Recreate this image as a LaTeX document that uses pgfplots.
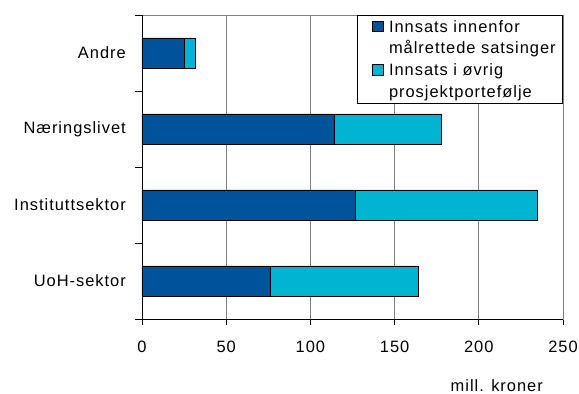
\documentclass[border=0pt]{standalone}
\usepackage{pgfplots}
\pgfplotsset{compat=1.18}
\usepackage{fontspec}
\setmainfont{Liberation Sans}[LetterSpace=6]
\definecolor{dblue}{RGB}{0,83,155}
\definecolor{lblue}{RGB}{0,180,210}
\definecolor{gridgray}{RGB}{128,128,128}
\begin{document}
\begin{tikzpicture}
\path (-142bp,-75bp) rectangle (437bp,319bp);
\begin{axis}[
  at={(0,0)}, anchor=south west,
  scale only axis, width=421bp, height=304bp,
  xbar stacked, bar width=0.395,
  xmin=0, xmax=250, ymin=-0.5, ymax=3.5,
  xtick={0,50,...,250},
  ytick={0,1,2,3},
  yticklabels={UoH-sektor, Instituttsektor, Næringslivet, Andre},
  minor ytick={-0.5,0.5,1.5,2.5,3.5},
  major y tick style={draw=none},
  major tick length=6bp,
  minor tick length=7bp,
  tick align=outside,
  tick pos=left,
  tick style={black, line width=0.8bp},
  xmajorgrids,
  grid style={gridgray, line width=0.8bp},
  axis line style={gridgray, line width=0.8bp},
  /pgf/number format/assume math mode=true,
  tick label style={font=\fontsize{16.5}{20}\selectfont},
  xticklabel style={inner sep=0pt, yshift=-16bp},
  yticklabel style={inner sep=0pt, xshift=-10bp},
  xlabel={mill. kroner},
  xlabel style={at={(axis description cs:0.9525,-0.240)}, anchor=base east, inner sep=0pt, font=\fontsize{16.5}{20}\selectfont},
  legend cell align=left,
  legend style={at={(1,1)}, anchor=north east, draw=black, fill=white, line width=0.6bp,
    inner xsep=7bp, inner ysep=4bp, column sep=5bp, row sep=7.2bp,
    font=\fontsize{16.5}{20}\selectfont,
    cells={anchor=base west},
    nodes={inner sep=0pt, text height=13bp, text depth=1.5bp}},
  legend image code/.code={\path[draw=none, fill=none] (0bp,0bp) rectangle (8bp,0.1bp);
    \draw[#1, draw=black, line width=0.8bp] (8bp,0.6bp) rectangle (19bp,11bp);},
]
\addlegendimage{fill=dblue}
\addlegendentry{Innsats innenfor}
\addlegendimage{empty legend}
\addlegendentry{målrettede satsinger}
\addlegendimage{fill=lblue}
\addlegendentry{Innsats i øvrig}
\addlegendimage{empty legend}
\addlegendentry{prosjektportefølje}
\addplot[forget plot, fill=dblue, draw=black, line width=0.8bp] coordinates {(76,0) (127,1) (114,2) (25,3)};
\addplot[forget plot, fill=lblue, draw=black, line width=0.8bp] coordinates {(88,0) (108,1) (64,2) (7,3)};
\draw[black, line width=0.8bp] (rel axis cs:0,0) -- (rel axis cs:0,1);
\draw[black, line width=0.8bp] (rel axis cs:0,0) -- (rel axis cs:1,0);
\end{axis}
\end{tikzpicture}
\end{document}
